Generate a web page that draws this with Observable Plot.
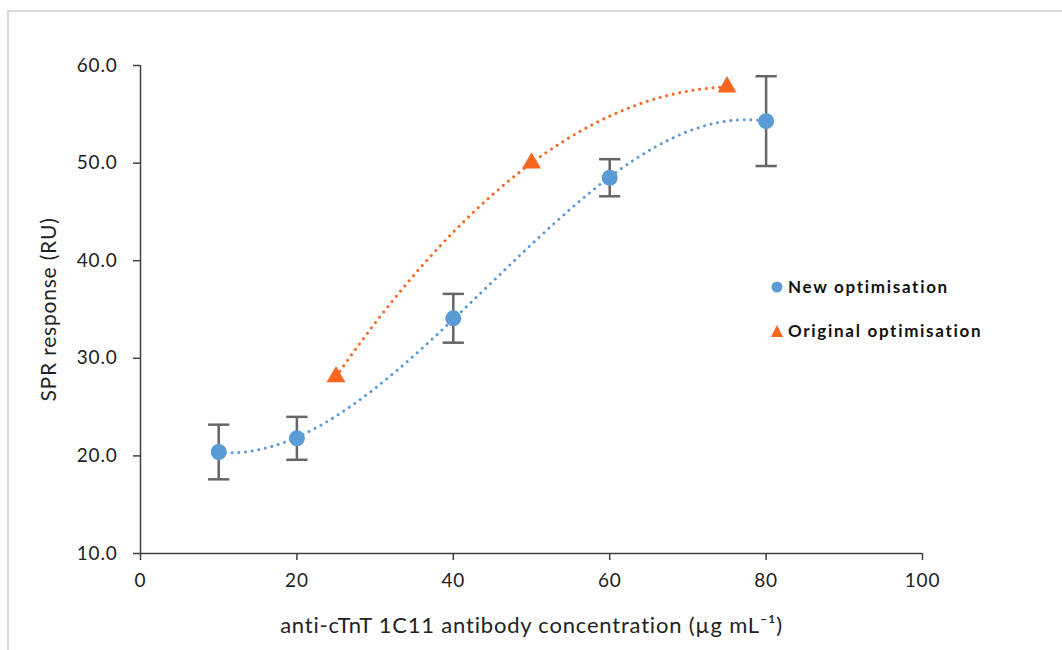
<!DOCTYPE html>
<html><head><meta charset="utf-8">
<script src="https://cdn.jsdelivr.net/npm/d3@7"></script>
<script src="https://cdn.jsdelivr.net/npm/@observablehq/plot@0.6"></script>
<style>
body{margin:0;background:#fff;font-family:Lato,"Open Sans",sans-serif;}
#wrap{position:relative;width:1062px;height:650px;overflow:hidden;background:#fff}
#frame{position:absolute;left:7px;top:10px;width:1200px;height:800px;border-left:2px solid #d9d9d9;border-top:2px solid #d9d9d9;box-sizing:border-box}
#chart{position:absolute;left:0;top:0}
.leg{position:absolute;left:770px;font-weight:bold;font-size:17px;letter-spacing:1.7px;color:#111;display:flex;align-items:center;white-space:nowrap}
.leg svg{margin-right:4px}
</style></head>
<body><div id="wrap"><div id="frame"></div><div id="chart"></div>
<div class="leg" style="top:276px"><svg width="14" height="14"><circle cx="7" cy="7" r="5.5" fill="#5b9bd5"/></svg>New optimisation</div>
<div class="leg" style="top:320px"><svg width="14" height="14"><path d="M7,1 L13,13 L1,13Z" fill="#f8661f"/></svg>Original optimisation</div>
</div>
<script>
// Data
const xNew = [10, 20, 40, 60, 80];
const yNew = [20.4, 21.8, 34.1, 48.5, 54.3];
const errNew = [2.8, 2.2, 2.5, 1.9, 4.6];
const xOrig = [25, 50, 75];
const yOrig = [28.1, 50.0, 57.8];
const xTicks = [0, 20, 40, 60, 80, 100];
const yTicks = [10, 20, 30, 40, 50, 60];

const blue = "#5b9bd5", orange = "#f8661f";

const newData = xNew.map((x, i) => ({x, y: yNew[i], e: errNew[i]}));
const origData = xOrig.map((x, i) => ({x, y: yOrig[i]}));

// least-squares polynomial fit (Excel-style polynomial trendline)
function polyfit(xs, ys, deg) {
  const n = deg + 1;
  const A = Array.from({length: n}, () => new Array(n + 1).fill(0));
  for (let r = 0; r < n; r++) {
    for (let c = 0; c < n; c++) A[r][c] = d3.sum(xs, x => Math.pow(x, r + c));
    A[r][n] = d3.sum(xs, (x, i) => ys[i] * Math.pow(x, r));
  }
  for (let i = 0; i < n; i++) {
    let p = i;
    for (let k = i + 1; k < n; k++) if (Math.abs(A[k][i]) > Math.abs(A[p][i])) p = k;
    [A[i], A[p]] = [A[p], A[i]];
    for (let k = i + 1; k < n; k++) {
      const f = A[k][i] / A[i][i];
      for (let j = i; j <= n; j++) A[k][j] -= f * A[i][j];
    }
  }
  const c = new Array(n).fill(0);
  for (let i = n - 1; i >= 0; i--) {
    let s = A[i][n];
    for (let j = i + 1; j < n; j++) s -= A[i][j] * c[j];
    c[i] = s / A[i][i];
  }
  return x => c.reduce((acc, ci, i) => acc + ci * Math.pow(x, i), 0);
}
const fNew = polyfit(xNew, yNew, 3);
const fOrig = polyfit(xOrig, yOrig, 2);
const trendNew = d3.range(xNew[0], xNew[xNew.length - 1] + 0.001, 0.5).map(x => ({x, y: fNew(x)}));
const trendOrig = d3.range(xOrig[0], xOrig[xOrig.length - 1] + 0.001, 0.5).map(x => ({x, y: fOrig(x)}));

const capSymbol = {draw(ctx, size) { const w = Math.sqrt(size); ctx.moveTo(-w, 0); ctx.lineTo(w, 0); }};
const dotted = {strokeWidth: 3, strokeDasharray: "0.01 6.7", strokeLinecap: "round"};

const chart = Plot.plot({
  width: 1062, height: 650,
  marginLeft: 140, marginRight: 140, marginTop: 65, marginBottom: 97,
  style: {fontFamily: "Lato, 'Open Sans', sans-serif", fontSize: "19px", letterSpacing: "0.8px", color: "#222", background: "transparent", overflow: "visible"},
  x: {domain: [0, 100]},
  y: {domain: [10, 60]},
  marks: [
    Plot.axisX({ticks: xTicks, tickSize: 7, tickPadding: 13, stroke: "#404040", strokeWidth: 1.5, label: null}),
    Plot.axisX({ticks: [], label: "anti-cTnT 1C11 antibody concentration (µg mL⁻¹)", labelAnchor: "center", labelArrow: "none",
      labelOffset: 79, fontSize: 22, style: {letterSpacing: "2px"}}),
    Plot.axisY({ticks: yTicks, tickFormat: d => d.toFixed(1), tickSize: 7, tickPadding: 16, stroke: "#404040", strokeWidth: 1.5, label: null}),
    Plot.axisY({ticks: [], label: "SPR response (RU)", labelAnchor: "center", labelArrow: "none", labelOffset: 99, fontSize: 21}),
    Plot.ruleX([0], {stroke: "#404040", strokeWidth: 1.5}),
    Plot.ruleY([10], {stroke: "#404040", strokeWidth: 1.5}),
    Plot.line(trendNew, {x: "x", y: "y", stroke: blue, ...dotted}),
    Plot.line(trendOrig, {x: "x", y: "y", stroke: orange, ...dotted}),
    Plot.ruleX(newData, {x: "x", y1: d => d.y - d.e, y2: d => d.y + d.e, stroke: "#666", strokeWidth: 2.5}),
    Plot.dot(newData, {x: "x", y: d => d.y - d.e, symbol: capSymbol, r: 6, stroke: "#666", strokeWidth: 2.5}),
    Plot.dot(newData, {x: "x", y: d => d.y + d.e, symbol: capSymbol, r: 6, stroke: "#666", strokeWidth: 2.5}),
    Plot.dot(newData, {x: "x", y: "y", r: 8, fill: blue}),
    Plot.dot(origData, {x: "x", y: "y", symbol: "triangle", r: 7, fill: orange})
  ]
});
document.getElementById("chart").appendChild(chart);
</script>
</body></html>
